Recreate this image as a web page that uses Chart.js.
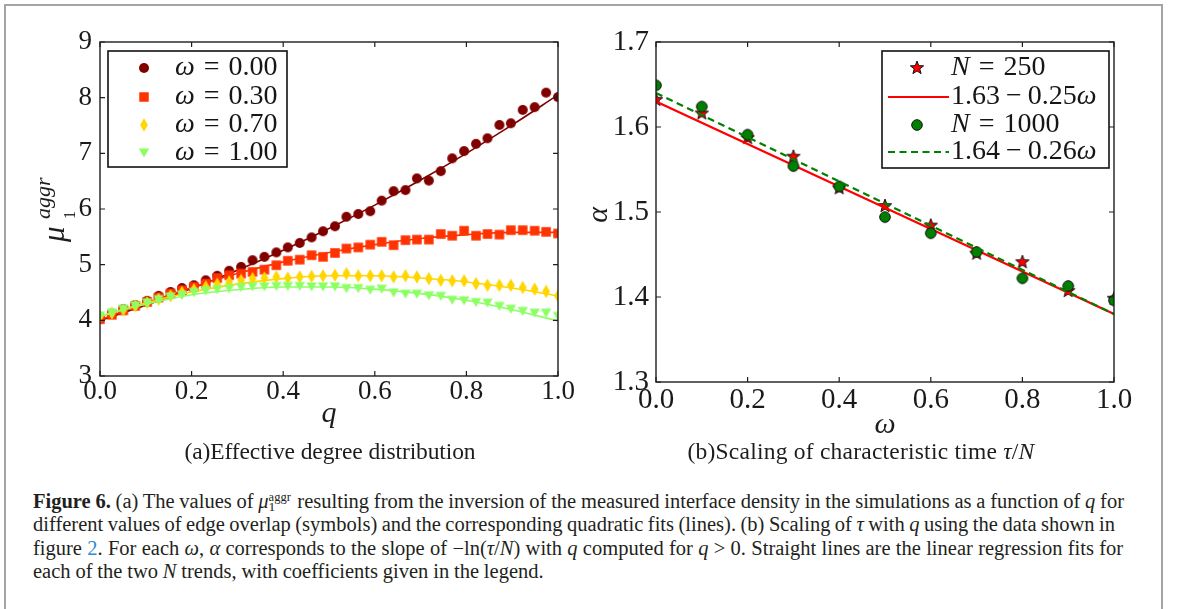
<!DOCTYPE html>
<html lang="en">
<head>
<meta charset="utf-8">
<title>Figure 6</title>
<script src="https://cdn.jsdelivr.net/npm/chart.js@4.4.1/dist/chart.umd.min.js"></script>
<style>
  html, body { margin: 0; padding: 0; background: #fff; }
  body { position: relative; width: 1179px; height: 609px; overflow: hidden;
         font-family: "Liberation Serif", "Times New Roman", serif; color: #1d1d1b; }
  #page-frame { position: absolute; left: 4px; top: 4px; width: 1159px; height: 800px;
                box-sizing: border-box; border: 2px solid #a4a4a4; }
  .panel { position: absolute; top: 0; }
  .lbl { position: absolute; white-space: nowrap; line-height: 1; }
  .it { font-style: italic; }
  .cap { position: absolute; left: 33px; white-space: nowrap; line-height: 1; font-size: 20.5px; color: #231f20; }
  .cap i { font-style: italic; }
  .link { color: #2b8ccf; }
  .mu { display: inline-block; position: relative; width: 24px; height: 0; }
  .mu span { position: absolute; left: 0; line-height: 1; }
</style>
</head>
<body>
<div id="page-frame"></div>
<canvas id="chartA" class="panel" style="left:0" width="590" height="420"></canvas>
<canvas id="chartB" class="panel" style="left:590px" width="589" height="420"></canvas>

<!-- axis titles, panel (a) -->
<div class="lbl" style="left:21px;top:185px;width:70px;height:44px;transform:rotate(-90deg);">
  <span class="lbl it" style="left:0;top:4px;font-size:31px">μ</span>
  <span class="lbl it" style="left:23px;top:-2.4px;font-size:22px">aggr</span>
  <span class="lbl" style="left:23px;top:27.6px;font-size:16px">1</span>
</div>
<div class="lbl it" style="left:229px;width:200px;text-align:center;top:397px;font-size:30px">q</div>

<!-- axis titles, panel (b) -->
<div class="lbl it" style="left:582px;top:200px;width:30px;height:30px;line-height:30px;text-align:center;font-size:30px;transform:rotate(-90deg);">α</div>
<div class="lbl it" style="left:785px;width:200px;text-align:center;top:408px;font-size:30px">ω</div>

<!-- sub-figure titles -->
<div class="lbl sub" data-center="330" data-width="291" style="top:440.3px;font-size:23.5px">(a)Effective degree distribution</div>
<div class="lbl sub" data-center="861" data-width="347" style="top:440.3px;font-size:23.5px">(b)Scaling of characteristic time <i>τ</i>/<i>N</i></div>

<!-- caption -->
<div class="cap" data-right="1124" style="top:490.8px"><b>Figure 6.</b> (a) The values of <i>μ</i><span class="mu"><span style="top:-17px;font-size:12.5px">aggr</span><span style="top:-8px;font-size:13.5px">1</span></span> resulting from the inversion of the measured interface density in the simulations as a function of <i>q</i> for</div>
<div class="cap" data-right="1115" style="top:514.3px">different values of edge overlap (symbols) and the corresponding quadratic fits (lines). (b) Scaling of <i>τ</i> with <i>q</i> using the data shown in</div>
<div class="cap" data-right="1123" style="top:537.8px">figure <span class="link">2</span>. For each <i>ω</i>, <i>α</i> corresponds to the slope of −ln(<i>τ</i>/<i>N</i>) with <i>q</i> computed for <i>q</i> &gt; 0. Straight lines are the linear regression fits for</div>
<div class="cap" id="capLast" style="top:561.3px">each of the two <i>N</i> trends, with coefficients given in the legend.</div>

<script>
// ---------- panel (a): effective degree vs q ----------
const qGrid = [0, 0.026, 0.051, 0.077, 0.103, 0.128, 0.154, 0.179, 0.205, 0.231,
               0.256, 0.282, 0.308, 0.333, 0.359, 0.385, 0.410, 0.436, 0.462, 0.487,
               0.513, 0.538, 0.564, 0.590, 0.615, 0.641, 0.667, 0.692, 0.718, 0.744,
               0.769, 0.795, 0.821, 0.846, 0.872, 0.897, 0.923, 0.949, 0.974, 1.0];
const muOmega000 = [4.03, 4.12, 4.20, 4.27, 4.35, 4.44, 4.51, 4.58, 4.63, 4.72,
                    4.80, 4.89, 4.96, 5.08, 5.14, 5.22, 5.31, 5.39, 5.49, 5.60,
                    5.69, 5.86, 5.91, 5.96, 6.15, 6.32, 6.34, 6.55, 6.51, 6.68,
                    6.91, 7.04, 7.17, 7.27, 7.51, 7.54, 7.78, 7.83, 8.09, 8.01];
const muOmega030 = [4.02, 4.10, 4.18, 4.26, 4.33, 4.41, 4.48, 4.54, 4.60, 4.66,
                    4.76, 4.81, 4.84, 4.87, 4.91, 4.99, 5.07, 5.09, 5.17, 5.14,
                    5.21, 5.29, 5.31, 5.36, 5.41, 5.35, 5.44, 5.45, 5.45, 5.55,
                    5.52, 5.61, 5.52, 5.55, 5.54, 5.62, 5.62, 5.61, 5.59, 5.56];
const muOmega070 = [4.07, 4.13, 4.19, 4.26, 4.32, 4.38, 4.44, 4.50, 4.55, 4.60,
                    4.65, 4.69, 4.72, 4.75, 4.76, 4.78, 4.76, 4.78, 4.79, 4.80,
                    4.81, 4.84, 4.80, 4.80, 4.80, 4.78, 4.80, 4.78, 4.75, 4.72,
                    4.71, 4.71, 4.66, 4.63, 4.63, 4.63, 4.59, 4.56, 4.52, 4.44];
const muOmega100 = [4.08, 4.13, 4.20, 4.26, 4.31, 4.37, 4.42, 4.45, 4.50, 4.53,
                    4.55, 4.57, 4.59, 4.60, 4.60, 4.61, 4.61, 4.61, 4.60, 4.60,
                    4.60, 4.57, 4.57, 4.54, 4.56, 4.49, 4.47, 4.47, 4.44, 4.43,
                    4.36, 4.35, 4.32, 4.31, 4.25, 4.20, 4.16, 4.13, 4.13, 4.07];

// quadratic fit curves, sampled every 0.1 in q
const qFit = [0, 0.1, 0.2, 0.3, 0.4, 0.5, 0.6, 0.7, 0.8, 0.9, 1.0];
const fitOmega000 = [4.00, 4.27, 4.57, 4.90, 5.26, 5.65, 6.07, 6.52, 7.00, 7.51, 8.05];
const fitOmega030 = [4.01, 4.31, 4.59, 4.84, 5.05, 5.22, 5.36, 5.47, 5.54, 5.58, 5.58];
const fitOmega070 = [4.07, 4.31, 4.51, 4.65, 4.75, 4.80, 4.80, 4.76, 4.69, 4.58, 4.44];
const fitOmega100 = [4.08, 4.29, 4.46, 4.55, 4.60, 4.60, 4.56, 4.48, 4.36, 4.19, 3.99];

const omegaLabelsA = ['0.00', '0.30', '0.70', '1.00'];
const xTicksA = [0, 0.2, 0.4, 0.6, 0.8, 1.0];
const yTicksA = [3, 4, 5, 6, 7, 8, 9];

// ---------- panel (b): alpha vs omega ----------
const omegaGrid = [0, 0.1, 0.2, 0.3, 0.4, 0.5, 0.6, 0.7, 0.8, 0.9, 1.0];
const alphaN250  = [1.632, 1.616, 1.587, 1.565, 1.528, 1.507, 1.484, 1.451, 1.441, 1.407, 1.398];
const alphaN1000 = [1.649, 1.624, 1.591, 1.554, 1.530, 1.494, 1.475, 1.453, 1.422, 1.413, 1.396];
// linear regressions: intercept and slope as quoted in the legend
const fitN250  = [1.63, 0.25];
const fitN1000 = [1.64, 0.26];
const omegaEnds = [0, 1];
const nLabelsB = ['250', '1000'];
const xTicksB = [0, 0.2, 0.4, 0.6, 0.8, 1.0];
const yTicksB = [1.3, 1.4, 1.5, 1.6, 1.7];

// ---------- marker glyphs ----------
function glyph(w, h, paint) {
  const c = document.createElement('canvas');
  c.width = w; c.height = h;
  const g = c.getContext('2d');
  paint(g, w / 2, h / 2);
  return c;
}
const COL = { w000: '#800000', w030: '#ff3300', w070: '#ffd600', w100: '#8cff64',
              n250: '#ff0000', n1000: '#008000' };

const mkCircle = glyph(12, 12, (g, x, y) => { g.fillStyle = COL.w000; g.beginPath(); g.arc(x, y, 5, 0, Math.PI * 2); g.fill(); });
const mkSquare = glyph(12, 12, (g, x, y) => { g.fillStyle = COL.w030; g.fillRect(x - 4.75, y - 4.75, 9.5, 9.5); });
const mkDiamond = glyph(10, 16, (g, x, y) => {
  g.fillStyle = COL.w070; g.beginPath();
  g.moveTo(x, y - 6.8); g.lineTo(x + 3.9, y); g.lineTo(x, y + 6.8); g.lineTo(x - 3.9, y);
  g.closePath(); g.fill();
});
const mkTriangle = glyph(12, 12, (g, x, y) => {
  g.fillStyle = COL.w100; g.beginPath();
  g.moveTo(x - 5.2, y - 4.4); g.lineTo(x + 5.2, y - 4.4); g.lineTo(x, y + 4.6);
  g.closePath(); g.fill();
});
const mkStar = glyph(18, 18, (g, x, y) => {
  g.beginPath();
  for (let i = 0; i < 10; i++) {
    const a = -Math.PI / 2 + i * Math.PI / 5;
    const r = i % 2 === 0 ? 7 : 2.9;
    const px = x + r * Math.cos(a), py = y + r * Math.sin(a);
    if (i === 0) g.moveTo(px, py); else g.lineTo(px, py);
  }
  g.closePath();
  g.fillStyle = COL.n250; g.fill();
  g.lineWidth = 1; g.strokeStyle = '#111'; g.stroke();
});
const mkDot = glyph(14, 14, (g, x, y) => {
  g.beginPath(); g.arc(x, y, 5.3, 0, Math.PI * 2);
  g.fillStyle = COL.n1000; g.fill();
  g.lineWidth = 1; g.strokeStyle = '#111'; g.stroke();
});

// ---------- helpers ----------
const pts = (xs, ys) => xs.map((x, i) => ({ x, y: ys[i] }));
const linePts = (xs, coef) => xs.map(x => ({ x, y: coef[0] - coef[1] * x }));
const SERIF = '"Liberation Serif", "Times New Roman", serif';

function drawRich(ctx, x, y, segs, size) {
  ctx.textBaseline = 'middle';
  ctx.textAlign = 'left';
  ctx.fillStyle = '#161616';
  segs.forEach(s => {
    if (typeof s === 'number') { x += s; return; }
    ctx.font = (s[1] ? 'italic ' : '') + size + 'px ' + SERIF;
    ctx.fillText(s[0], x, y);
    x += ctx.measureText(s[0]).width;
  });
}

// legend boxes, keyed by canvas id
const legendSpecs = {
  chartA: {
    box: [108, 51, 179, 116], markerX: 144, textX: 175, rows: [68, 97, 125, 153], size: 28,
    items: [
      { marker: mkCircle,   text: [['ω', 1], 9, ['='], 9, [omegaLabelsA[0]]] },
      { marker: mkSquare,   text: [['ω', 1], 9, ['='], 9, [omegaLabelsA[1]]] },
      { marker: mkDiamond,  text: [['ω', 1], 9, ['='], 9, [omegaLabelsA[2]]] },
      { marker: mkTriangle, text: [['ω', 1], 9, ['='], 9, [omegaLabelsA[3]]] }
    ]
  },
  chartB: {
    box: [292, 51, 227, 117], markerX: 327, textX: 361, lineX: [298, 359], rows: [68, 97, 125, 152], size: 28,
    items: [
      { marker: mkStar, text: [['N', 1], 9, ['='], 9, [nLabelsB[0]]] },
      { line: { color: COL.n250, width: 2.2, dash: [] },
        text: [[fitN250[0].toFixed(2)], 6, ['−'], 6, [fitN250[1].toFixed(2)], ['ω', 1]] },
      { marker: mkDot, text: [['N', 1], 9, ['='], 9, [nLabelsB[1]]] },
      { line: { color: COL.n1000, width: 2.2, dash: [7, 4.5] },
        text: [[fitN1000[0].toFixed(2)], 6, ['−'], 6, [fitN1000[1].toFixed(2)], ['ω', 1]] }
    ]
  }
};

// axes frame with inward ticks on all four sides, then the legend box
const framePlugin = {
  id: 'frameTicksLegend',
  afterDatasetsDraw(chart) {
    const { ctx, chartArea: a, scales } = chart;
    ctx.save();
    ctx.strokeStyle = '#1e1e1e';
    ctx.lineWidth = 1.4;
    ctx.strokeRect(a.left, a.top, a.right - a.left, a.bottom - a.top);
    const len = 5;
    ctx.beginPath();
    scales.x.ticks.forEach(t => {
      const px = scales.x.getPixelForValue(t.value);
      ctx.moveTo(px, a.bottom); ctx.lineTo(px, a.bottom - len);
      ctx.moveTo(px, a.top); ctx.lineTo(px, a.top + len);
    });
    scales.y.ticks.forEach(t => {
      const py = scales.y.getPixelForValue(t.value);
      ctx.moveTo(a.left, py); ctx.lineTo(a.left + len, py);
      ctx.moveTo(a.right, py); ctx.lineTo(a.right - len, py);
    });
    ctx.lineWidth = 1.2;
    ctx.stroke();

    const L = legendSpecs[chart.canvas.id];
    if (L) {
      const [bx, by, bw, bh] = L.box;
      ctx.fillStyle = '#fff';
      ctx.fillRect(bx, by, bw, bh);
      ctx.lineWidth = 1.6;
      ctx.strokeStyle = '#111';
      ctx.strokeRect(bx, by, bw, bh);
      L.items.forEach((it, i) => {
        const cy = L.rows[i];
        if (it.line) {
          ctx.beginPath();
          ctx.setLineDash(it.line.dash);
          ctx.strokeStyle = it.line.color;
          ctx.lineWidth = it.line.width;
          ctx.moveTo(L.lineX[0], cy); ctx.lineTo(L.lineX[1], cy);
          ctx.stroke();
          ctx.setLineDash([]);
        }
        if (it.marker) {
          ctx.drawImage(it.marker, Math.round(L.markerX - it.marker.width / 2), Math.round(cy - it.marker.height / 2));
        }
        drawRich(ctx, L.textX, cy, it.text, L.size);
      });
    }
    ctx.restore();
  }
};

function axisOptions(min, max, ticks, fmt, size, pad, fitKey, fitVal) {
  const o = {
    type: 'linear', min, max,
    afterBuildTicks: s => { s.ticks = ticks.map(v => ({ value: v })); },
    grid: { display: false, drawTicks: false },
    border: { display: false },
    ticks: { autoSkip: false, maxRotation: 0, padding: pad, color: '#1a1a1a',
             font: { family: SERIF, size }, callback: fmt }
  };
  o.afterFit = s => { s[fitKey] = fitVal; };
  return o;
}

function baseOptions(padding, xAxis, yAxis) {
  return {
    responsive: false, animation: false, devicePixelRatio: 1,
    layout: { padding },
    plugins: { legend: { display: false }, tooltip: { enabled: false } },
    scales: { x: xAxis, y: yAxis }
  };
}

const fmt1 = v => Number(v).toFixed(1);
const fmt0 = v => String(Math.round(v));

const markerSet = (label, data, glyphImg, order) => ({
  type: 'scatter', label, data, pointStyle: glyphImg, pointRadius: 5, pointHoverRadius: 5,
  showLine: false, clip: 0, order
});
const fitSet = (label, data, color, width, dash, order) => ({
  type: 'line', label, data, borderColor: color, borderWidth: width, borderDash: dash,
  pointRadius: 0, fill: false, cubicInterpolationMode: 'monotone', clip: 0, order
});

// Panel (a)
new Chart(document.getElementById('chartA'), {
  type: 'scatter',
  data: {
    datasets: [
      markerSet('ω = 0.00', pts(qGrid, muOmega000), mkCircle, 8),
      fitSet('fit ω = 0.00', pts(qFit, fitOmega000), COL.w000, 1.6, [], 7),
      markerSet('ω = 0.30', pts(qGrid, muOmega030), mkSquare, 6),
      fitSet('fit ω = 0.30', pts(qFit, fitOmega030), COL.w030, 1.6, [], 5),
      markerSet('ω = 0.70', pts(qGrid, muOmega070), mkDiamond, 4),
      fitSet('fit ω = 0.70', pts(qFit, fitOmega070), COL.w070, 1.6, [], 3),
      markerSet('ω = 1.00', pts(qGrid, muOmega100), mkTriangle, 2),
      fitSet('fit ω = 1.00', pts(qFit, fitOmega100), COL.w100, 1.6, [], 1)
    ]
  },
  options: baseOptions({ left: 0, top: 42, right: 32, bottom: 14 },
    axisOptions(0, 1, xTicksA, fmt1, 27, 0, 'height', 30),
    axisOptions(3, 9, yTicksA, fmt0, 27, 8, 'width', 100)),
  plugins: [framePlugin]
});

// Panel (b)
new Chart(document.getElementById('chartB'), {
  type: 'scatter',
  data: {
    datasets: [
      markerSet('N = 250', pts(omegaGrid, alphaN250), mkStar, 4),
      fitSet('fit N = 250', linePts(omegaEnds, fitN250), COL.n250, 2.2, [], 3),
      markerSet('N = 1000', pts(omegaGrid, alphaN1000), mkDot, 2),
      fitSet('fit N = 1000', linePts(omegaEnds, fitN1000), COL.n1000, 2.2, [7, 4.5], 1)
    ]
  },
  options: baseOptions({ left: 0, top: 42, right: 65, bottom: 8 },
    axisOptions(0, 1, xTicksB, fmt1, 29, 1, 'height', 30),
    axisOptions(1.3, 1.7, yTicksB, fmt1, 29, 7, 'width', 66)),
  plugins: [framePlugin]
});

// ---------- text layout: stretch caption lines and sub-titles to their measures ----------
const spacings = [];
document.querySelectorAll('.cap[data-right]').forEach(el => {
  const left = el.getBoundingClientRect().left;
  const target = parseFloat(el.dataset.right) - left;
  const spaces = (el.textContent.trim().match(/ +/g) || []).length;
  const w = el.getBoundingClientRect().width;
  const ws = (target - w) / spaces;
  spacings.push(ws);
  el.style.wordSpacing = ws.toFixed(2) + 'px';
});
const lastLine = document.getElementById('capLast');
lastLine.style.wordSpacing = (spacings.reduce((s, v) => s + v, 0) / spacings.length).toFixed(2) + 'px';

document.querySelectorAll('.sub').forEach(el => {
  const target = parseFloat(el.dataset.width);
  const n = el.textContent.length;
  const w = el.getBoundingClientRect().width;
  el.style.letterSpacing = ((target - w) / n).toFixed(3) + 'px';
  const w2 = el.getBoundingClientRect().width;
  el.style.left = (parseFloat(el.dataset.center) - w2 / 2) + 'px';
});
</script>
</body>
</html>
